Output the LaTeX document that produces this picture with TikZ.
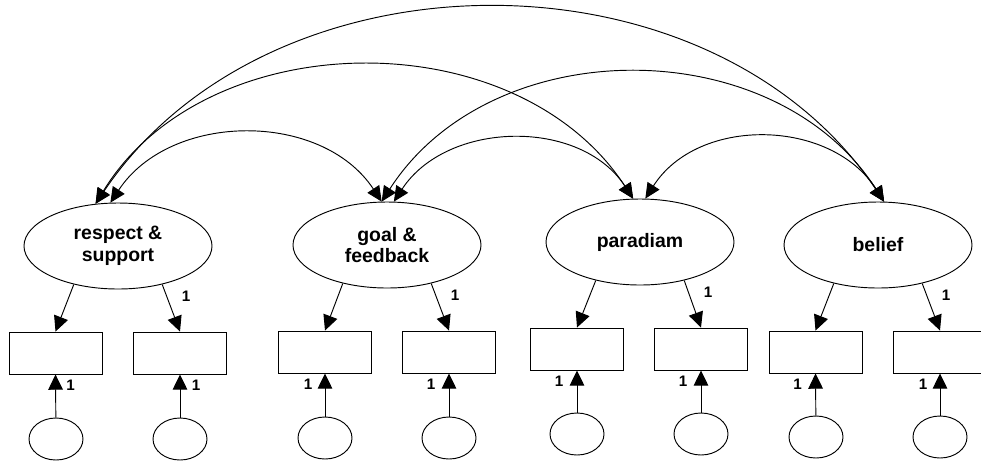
\documentclass[tikz,border=0pt]{standalone}
\usepackage{fontspec}
\setmainfont{Liberation Sans}
\usetikzlibrary{shapes.geometric,arrows.meta,calc}
\begin{document}
\begin{tikzpicture}[x=0.03cm,y=-0.03cm,line width=0.8pt,
  lat/.style={ellipse,draw,minimum width=5.64cm,minimum height=2.58cm,inner sep=0pt,align=center,
    font=\fontsize{16.6}{18.7}\selectfont\bfseries},
  obs/.style={rectangle,draw,minimum width=2.79cm,minimum height=1.26cm,inner sep=0pt},
  err/.style={ellipse,draw,minimum width=1.62cm,minimum height=1.26cm,inner sep=0pt},
  arr/.style={-{Triangle[length=13pt,width=12.5pt]}},
  cov/.style={{Triangle[length=13pt,width=12pt]}-{Triangle[length=13pt,width=12pt]}},
  one/.style={font=\fontsize{13}{15}\selectfont\bfseries,inner sep=0pt}]
\useasboundingbox (0,0) rectangle (981,464);
% latent variables
\node[lat] (E1) at (118,246) {respect \&\\support};
\node[lat] (E2) at (387,245) {goal \&\\feedback};
\node[lat] (E3) at (640,242) {paradiam};
\node[lat] (E4) at (878,245) {belief};
% observed
\node[obs] (R1) at (55.5,353) {};
\node[obs] (R2) at (180,353) {};
\node[obs] (R3) at (325,352) {};
\node[obs] (R4) at (449,352) {};
\node[obs] (R5) at (577,349) {};
\node[obs] (R6) at (701,349) {};
\node[obs] (R7) at (815.5,352) {};
\node[obs] (R8) at (940,352) {};
% errors
\node[err] (C1) at (56,439) {};
\node[err] (C2) at (180,439) {};
\node[err] (C3) at (325,438) {};
\node[err] (C4) at (449,438) {};
\node[err] (C5) at (577,434) {};
\node[err] (C6) at (701,434) {};
\node[err] (C7) at (816,437) {};
\node[err] (C8) at (940,437) {};
% loadings
\draw[arr] (E1.221) -- (R1.north);
\draw[arr] (E1.319) -- (R2.north);
\draw[arr] (E2.221) -- (R3.north);
\draw[arr] (E2.319) -- (R4.north);
\draw[arr] (E3.221) -- (R5.north);
\draw[arr] (E3.319) -- (R6.north);
\draw[arr] (E4.221) -- (R7.north);
\draw[arr] (E4.319) -- (R8.north);
\node[one] (t1) at ($(E1)+(68,50)$) {1};
\node[one] (t2) at ($(E2)+(68,50)$) {1};
\node[one] (t3) at ($(E3)+(68,50)$) {1};
\node[one] (t4) at ($(E4)+(68,50)$) {1};
% error arrows
\draw[arr] (C1) -- (R1.south);
\draw[arr] (C2) -- (R2.south);
\draw[arr] (C3) -- (R3.south);
\draw[arr] (C4) -- (R4.south);
\draw[arr] (C5) -- (R5.south);
\draw[arr] (C6) -- (R6.south);
\draw[arr] (C7) -- (R7.south);
\draw[arr] (C8) -- (R8.south);
\node[one] (b1) at ($(R1.south)+(15,11)$) {1};
\node[one] (b2) at ($(R2.south)+(16,11)$) {1};
\node[one] (b3) at ($(R3.south)+(-17,11)$) {1};
\node[one] (b4) at ($(R4.south)+(-18,11)$) {1};
\node[one] (b5) at ($(R5.south)+(-18,11)$) {1};
\node[one] (b6) at ($(R6.south)+(-18,11)$) {1};
\node[one] (b7) at ($(R7.south)+(-18,11)$) {1};
\node[one] (b8) at ($(R8.south)+(-17,11)$) {1};
% covariances
\draw[cov] (E1.118) .. controls +(174,-259) and +(-174,-259) .. (E4.82);
\draw[cov] (E1.118) .. controls +(110,-180) and +(-118,-180) .. (E3.99);
\draw[cov] (E1.100) .. controls +(60,-91) and +(-60,-91) .. (E2.97);
\draw[cov] (E2.97) .. controls +(110,-171) and +(-110,-171) .. (E4.82);
\draw[cov] (E2.81) .. controls +(53,-81) and +(-53,-81) .. (E3.99);
\draw[cov] (E3.83) .. controls +(53,-83) and +(-53,-83) .. (E4.82);
\end{tikzpicture}
\end{document}
